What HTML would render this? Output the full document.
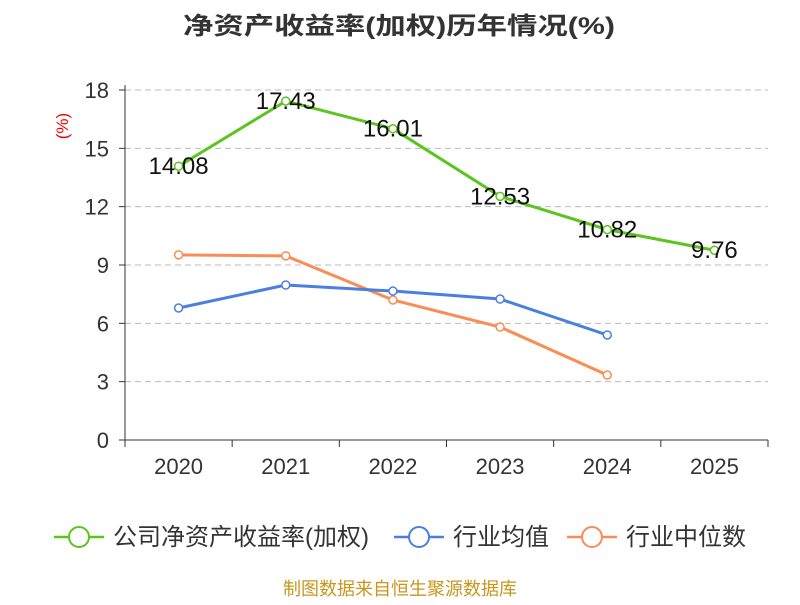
<!DOCTYPE html>
<html><head><meta charset="utf-8"><style>
body{margin:0;background:#fff;width:800px;height:600px;overflow:hidden;font-family:"Liberation Sans","Noto Sans CJK SC",sans-serif}
</style></head><body>
<svg id="chart" width="800" height="600" xmlns="http://www.w3.org/2000/svg">
<text x="183" y="34" textLength="432" lengthAdjust="spacingAndGlyphs" font-size="24" font-weight="bold" fill="#333" font-family="Liberation Sans, Noto Sans CJK SC, sans-serif">净资产收益率(加权)历年情况(%)</text>
<text x="68" y="126" text-anchor="middle" font-size="17" fill="#e00" transform="rotate(-90 68 126)" font-family="Liberation Sans, Noto Sans CJK SC, sans-serif">(%)</text>
<g id="grid"></g><g id="axes"></g><g id="series"></g>
<g font-size="24" fill="#333" font-family="Liberation Sans, Noto Sans CJK SC, sans-serif">
 <g><line x1="54" y1="537" x2="104" y2="537" stroke="#5bc41f" stroke-width="2.5"/><circle cx="79" cy="537" r="10" fill="#fff" stroke="#5bc41f" stroke-width="2"/><text x="113" y="545">公司净资产收益率(加权)</text></g>
 <g><line x1="394" y1="537" x2="444" y2="537" stroke="#4a7fe0" stroke-width="2.5"/><circle cx="419" cy="537" r="10" fill="#fff" stroke="#4a7fe0" stroke-width="2"/><text x="453" y="545">行业均值</text></g>
 <g><line x1="567" y1="537" x2="617" y2="537" stroke="#fa8c55" stroke-width="2.5"/><circle cx="592" cy="537" r="10" fill="#fff" stroke="#fa8c55" stroke-width="2"/><text x="626" y="545">行业中位数</text></g>
</g>
<text x="400" y="595" text-anchor="middle" font-size="18" fill="#c8961e" font-family="Liberation Sans, Noto Sans CJK SC, sans-serif">制图数据来自恒生聚源数据库</text>
</svg>
<script>
const categories=["2020","2021","2022","2023","2024","2025"];
const companyValues=[14.08,17.43,16.01,12.53,10.82,9.76];
const industryAvg=[6.79,7.97,7.66,7.25,5.40];
const industryMedian=[9.52,9.47,7.2,5.81,3.34];
const yTicks=[0,3,6,9,12,15,18];
const NS="http://www.w3.org/2000/svg";
const x0=125,x1=768,y0=440,y1=90,yMax=18;
const bw=(x1-x0)/categories.length;
const xs=i=>x0+bw*(i+0.5);
const ys=v=>y0-(v/yMax)*(y0-y1);
function mk(tag,attrs,parent){const e=document.createElementNS(NS,tag);for(const k in attrs)e.setAttribute(k,attrs[k]);parent.appendChild(e);return e;}
const grid=document.getElementById('grid'),axes=document.getElementById('axes'),series=document.getElementById('series');
yTicks.forEach(t=>{
 const y=ys(t);
 if(t>0){const g=mk('line',{x1:x0,x2:x1,y1:y,y2:y,stroke:'#bbb','stroke-dasharray':'6,4'},grid);
 
 }
 const tk=mk('line',{x1:x0-6,x2:x0,y1:y,y2:y,stroke:'#333'},axes);
 
 
 const lb=mk('text',{x:x0-16,y:y+8,'text-anchor':'end','font-size':22,fill:'#333'},axes);lb.textContent=t;
 
 
});
const ya=mk('line',{x1:x0,x2:x0,y1:y1-5,y2:y0,stroke:'#333'},axes);


const xa=mk('line',{x1:x0,x2:x1,y1:y0,y2:y0,stroke:'#333'},axes);


for(let i=0;i<=categories.length;i++){const t=mk('line',{x1:x0+bw*i,x2:x0+bw*i,y1:y0,y2:y0+7,stroke:'#333'},axes);
 
 }
categories.forEach((c,i)=>{const l=mk('text',{x:xs(i),y:y0+34,'text-anchor':'middle','font-size':22,fill:'#333'},axes);l.textContent=c;
 
 });
function drawSeries(vals,color,name,labels){
 const pts=vals.map((v,i)=>xs(i)+','+ys(v)).join(' ');
 const pl=mk('polyline',{points:pts,fill:'none',stroke:color,'stroke-width':3},series);
 
 
 vals.forEach((v,i)=>{
  const c=mk('circle',{cx:xs(i),cy:ys(v),r:4,fill:'#fff',stroke:color,'stroke-width':1.5},series);
  
  
  if(labels){const t=mk('text',{x:xs(i),y:ys(v)+8,'text-anchor':'middle','font-size':24,fill:'#111'},series);t.textContent=v.toFixed(2);
   
   }
 });
}
drawSeries(industryMedian,'#fa8c55','industry-median',false);
drawSeries(industryAvg,'#4a7fe0','industry-avg',false);
drawSeries(companyValues,'#5bc41f','company',true);
</script>
</body></html>
